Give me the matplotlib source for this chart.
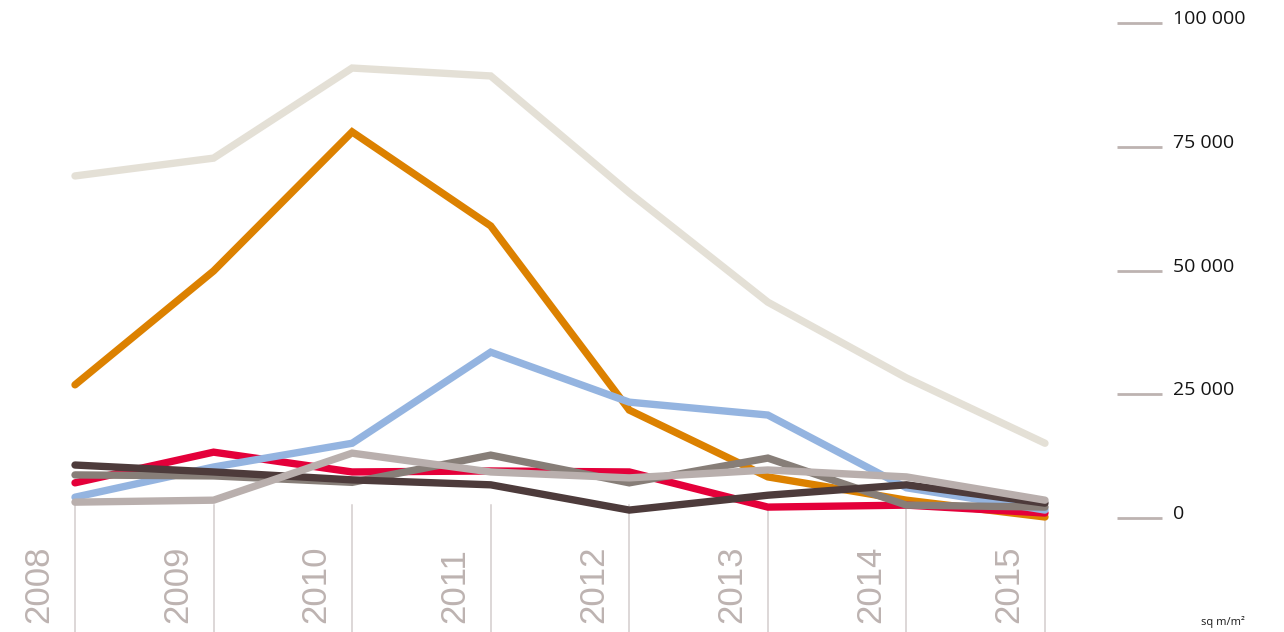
import matplotlib
matplotlib.use("Agg")
import matplotlib.pyplot as plt

years = [2008, 2009, 2010, 2011, 2012, 2013, 2014, 2015]

beige = [68900, 72500, 90700, 89100, 65500, 43400, 28100, 14900]
orange = [26700, 49700, 77800, 58800, 21600, 8100, 3400, 0]
red = [6900, 13100, 9100, 9300, 9100, 2000, 2400, 800]
blue = [4000, 10100, 14900, 33300, 23200, 20600, 5900, 1400]
taupe = [8500, 8300, 7000, 12500, 6900, 11900, 2400, 2000]
dark = [10500, 9100, 7500, 6500, 1400, 4400, 6500, 2800]
lightgrey = [3000, 3400, 12900, 9100, 7900, 9500, 8100, 3400]

yticks = [0, 25000, 50000, 75000, 100000]
ytick_labels = ["0", "25 000", "50 000", "75 000", "100 000"]
unit_label = "sq m/m\u00b2"

# pixel mapping: 2008 at x=75, step 138.57 px; 0 at y=517, 100000 at y=22
px_year = 138.57
px_val = 100000 / 495.0

fig = plt.figure(figsize=(12.84, 6.32), dpi=100)
ax = fig.add_axes([0, 0, 1, 1])
ax.set_xlim(2008 - 75 / px_year, 2008 + (1284 - 75) / px_year)
ax.set_ylim(-(632 - 517) * px_val, 517 * px_val)
ax.axis("off")

tick_grey = "#bdb3b1"

# vertical year lines
for yr in years:
    ax.plot([yr, yr], [2400, -30000], color="#d3cdcd", lw=1.1, zorder=1)

series = [
    (beige, "#e4e0d6"),
    (orange, "#dc8100"),
    (red, "#e4003a"),
    (blue, "#94b4e0"),
    (taupe, "#877e78"),
    (dark, "#4d3b3b"),
    (lightgrey, "#b9afad"),
]
for i, (vals, col) in enumerate(series):
    ax.plot(years, vals, color=col, lw=5.3, solid_capstyle="round",
            solid_joinstyle="miter", zorder=2 + i)

# right-hand scale
x0 = 2008 + (1117 - 75) / px_year
x1 = 2008 + (1162 - 75) / px_year
xt = 2008 + (1173 - 75) / px_year
for v, lab in zip(yticks, ytick_labels):
    yv = v - 1 * px_val
    ax.plot([x0, x1], [yv, yv], color=tick_grey, lw=2, solid_capstyle="butt", zorder=1)
    ax.text(xt, v + 3 * px_val, lab, ha="left", va="center", fontsize=14,
            family="Open Sans", color="#141414")

# year labels
for yr in years:
    ax.text(yr - 36 / px_year, -(623 - 517) * px_val, str(yr), rotation=90,
            ha="center", va="bottom", fontsize=25, family="Liberation Sans",
            color=tick_grey)

ax.text(2008 + (1223 - 75) / px_year, -(622 - 517) * px_val, unit_label,
        ha="center", va="center", fontsize=8, family="Open Sans", color="#1a1a1a")

fig.savefig("out.png", dpi=100)
